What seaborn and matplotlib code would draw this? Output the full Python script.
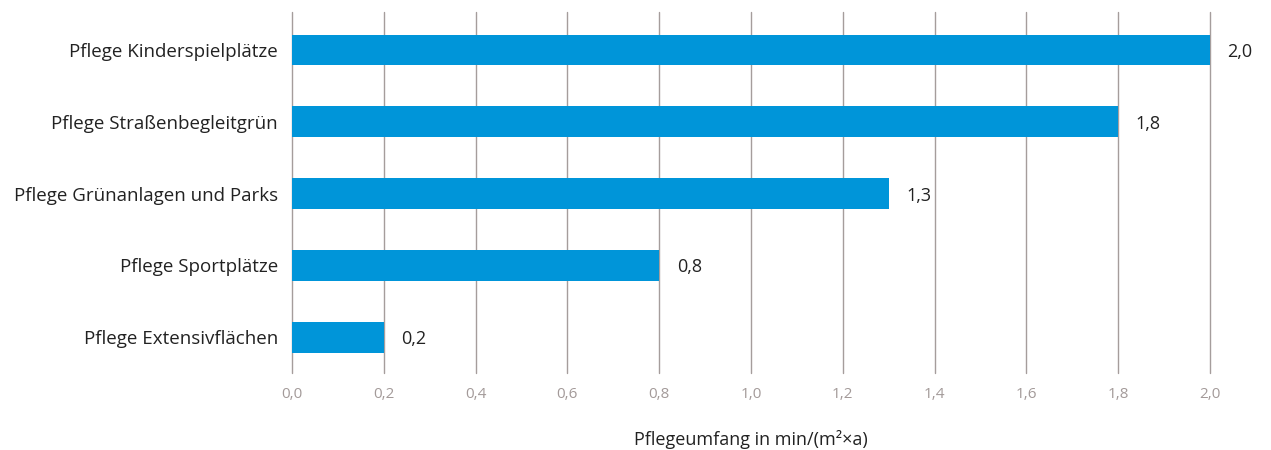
import matplotlib
matplotlib.use("Agg")
import matplotlib.pyplot as plt
import seaborn as sns
import pandas as pd
import numpy as np

kategorien = [
    "Pflege Kinderspielplätze",
    "Pflege Straßenbegleitgrün",
    "Pflege Grünanlagen und Parks",
    "Pflege Sportplätze",
    "Pflege Extensivflächen",
]
werte = [2.0, 1.8, 1.3, 0.8, 0.2]
x_ticks = [0.0, 0.2, 0.4, 0.6, 0.8, 1.0, 1.2, 1.4, 1.6, 1.8, 2.0]

df = pd.DataFrame({"kategorie": kategorien, "wert": werte})

sns.set_theme(style="white")
plt.rcParams["font.family"] = ["Open Sans", "DejaVu Sans"]

fig = plt.figure(figsize=(12.71, 4.5), dpi=100)
ax = fig.add_axes([292 / 1271, 1 - 373 / 450, (1210 - 292) / 1271, (373 - 12) / 450])

sns.barplot(data=df, x="wert", y="kategorie", color="#0095d9", saturation=1,
            width=0.43, linewidth=0, ax=ax, zorder=3)

ax.set_xlim(0, 2.0)
ax.set_ylim(4.5, -0.53)
ax.set_xticks(x_ticks)
ax.set_xticklabels([f"{v:.1f}".replace(".", ",") for v in x_ticks],
                   color="#a39a99", fontsize=11)
ax.tick_params(axis="x", length=0, pad=10)
ax.tick_params(axis="y", length=0, pad=10, labelsize=13.5, labelcolor="#222222")

# vertikale Gitterlinien
for v in x_ticks:
    ax.axvline(v, color="#a59d9c", linewidth=1, zorder=1, clip_on=False)

for spine in ax.spines.values():
    spine.set_visible(False)

for i, v in enumerate(werte):
    ax.text(v + 0.038, i + 0.03, f"{v:.1f}".replace(".", ","), va="center", ha="left",
            fontsize=13, color="#222222", clip_on=False)

ax.set_ylabel("")
ax.set_xlabel("Pflegeumfang in min/(m²×a)", fontsize=13, color="#222222", labelpad=20)

fig.savefig("out.png", dpi=100)
